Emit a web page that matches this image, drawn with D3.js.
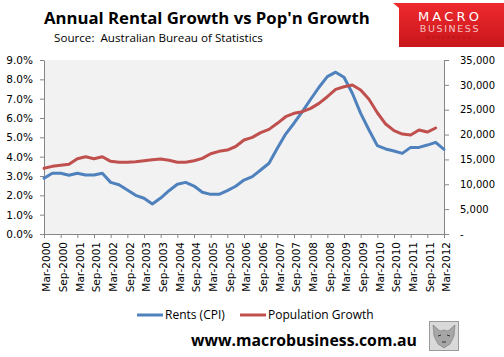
<!DOCTYPE html>
<html><head><meta charset="utf-8">
<script src="https://cdn.jsdelivr.net/npm/d3@7"></script>
<style>html,body{margin:0;padding:0;background:#fff;}svg{display:block;}</style>
</head><body>
<script>
const quarters = ["Mar-2000","Jun-2000","Sep-2000","Dec-2000","Mar-2001","Jun-2001","Sep-2001","Dec-2001",
"Mar-2002","Jun-2002","Sep-2002","Dec-2002","Mar-2003","Jun-2003","Sep-2003","Dec-2003",
"Mar-2004","Jun-2004","Sep-2004","Dec-2004","Mar-2005","Jun-2005","Sep-2005","Dec-2005",
"Mar-2006","Jun-2006","Sep-2006","Dec-2006","Mar-2007","Jun-2007","Sep-2007","Dec-2007",
"Mar-2008","Jun-2008","Sep-2008","Dec-2008","Mar-2009","Jun-2009","Sep-2009","Dec-2009",
"Mar-2010","Jun-2010","Sep-2010","Dec-2010","Mar-2011","Jun-2011","Sep-2011","Dec-2011","Mar-2012"];
const rentsCPI = [2.88,3.14,3.14,3.04,3.14,3.05,3.05,3.14,2.67,2.55,2.28,2.00,1.85,1.55,1.86,2.24,
2.57,2.67,2.48,2.16,2.05,2.05,2.24,2.47,2.79,2.97,3.31,3.66,4.43,5.17,5.73,6.33,
6.97,7.59,8.14,8.37,8.11,7.28,6.24,5.38,4.57,4.40,4.29,4.17,4.48,4.48,4.60,4.74,4.38];
const popGrowth = [13210,13610,13810,14010,15150,15550,15150,15550,14620,14420,14420,14540,14740,14940,15080,14820,
14420,14420,14740,15220,16150,16630,16890,17600,18900,19440,20380,21050,22260,23590,24270,24600,
25270,26280,27610,29090,29620,29960,28960,27090,24390,22120,20780,20110,19910,20910,20510,21320,null];
const leftTicks = [0,1,2,3,4,5,6,7,8,9];
const rightTicks = [0,5000,10000,15000,20000,25000,30000,35000];
const tickLabels = quarters.filter((q,i)=>i%2===0);
const seriesNames = ["Rents (CPI)","Population Growth"];
const titleText = "Annual Rental Growth vs Pop'n Growth";
const sourceText = "Source:  Australian Bureau of Statistics";
const siteText = "www.macrobusiness.com.au";

const W=504,H=357;
const L=44,R=444,T=60,B=234;
const blue="#4f81bd", red="#c0504d", axisCol="#868686";
const font="DejaVu Sans, Verdana, sans-serif";

const svg=d3.select("body").append("svg").attr("width",W).attr("height",H);

const x=d3.scalePoint().domain(quarters).range([L,R]);
const yL=d3.scaleLinear().domain([0,9]).range([B,T]);
const yR=d3.scaleLinear().domain([0,35000]).range([B,T]);

svg.append("rect").attr("x",L).attr("y",T).attr("width",R-L).attr("height",B-T).attr("fill","#f2f2f2");

// left axis
const gL=svg.append("g").attr("transform",`translate(${L},0)`)
  .call(d3.axisLeft(yL).tickValues(leftTicks).tickFormat(d=>d.toFixed(1)+"%").tickSize(4).tickSizeOuter(0).tickPadding(7));
// right axis
const gR=svg.append("g").attr("transform",`translate(${R},0)`)
  .call(d3.axisRight(yR).tickValues(rightTicks).tickFormat(d=>d===0?"-":d3.format(",")(d)).tickSize(5).tickSizeOuter(0).tickPadding(11));
// x axis
const gX=svg.append("g").attr("transform",`translate(0,${B})`)
  .call(d3.axisBottom(x).tickValues(tickLabels).tickSize(4).tickSizeOuter(0));
gX.selectAll(".tick text").attr("text-anchor","end")
  .attr("x",-8).attr("y",0).attr("dy","0.35em").attr("dx",0)
  .attr("transform","translate(2,0) rotate(-90)");

[gL,gR,gX].forEach(g=>{
  g.selectAll("path.domain").attr("stroke",axisCol).attr("stroke-width",1);
  g.selectAll(".tick line").attr("stroke",axisCol);
  g.selectAll("text").attr("font-family",font).attr("font-size",10.5).attr("fill","#000");
});
gR.selectAll("text").attr("font-size",10);

// lines
const lineL=d3.line().x((d,i)=>x(quarters[i])).y(d=>yL(d)).defined(d=>d!=null);
const lineR=d3.line().x((d,i)=>x(quarters[i])).y(d=>yR(d)).defined(d=>d!=null);
svg.append("path").datum(rentsCPI).attr("d",lineL).attr("fill","none").attr("stroke",blue).attr("stroke-width",3).attr("stroke-linejoin","round").attr("stroke-linecap","round");
svg.append("path").datum(popGrowth).attr("d",lineR).attr("fill","none").attr("stroke",red).attr("stroke-width",3).attr("stroke-linejoin","round").attr("stroke-linecap","round");

// title
function fitText(sel,target){const w=sel.node().getComputedTextLength();const fs=parseFloat(sel.attr("font-size"));sel.attr("font-size",fs*target/w);}
const t=svg.append("text").attr("x",44).attr("y",24).attr("font-family","Open Sans, sans-serif").attr("font-weight","bold").attr("font-size",18).attr("fill","#000").text(titleText);
fitText(t,326);
const s=svg.append("text").attr("x",54).attr("y",42).attr("font-family","Open Sans, sans-serif").attr("font-size",12).attr("fill","#000").style("white-space","pre").text(sourceText);
fitText(s,209);

// logo
const defs=svg.append("defs");
const lg=defs.append("linearGradient").attr("id","lg").attr("x1",0).attr("y1",0).attr("x2",0).attr("y2",1);
lg.append("stop").attr("offset","0%").attr("stop-color","#ee2a2e");
lg.append("stop").attr("offset","100%").attr("stop-color","#c8161b");
svg.append("path").attr("d","M393,3 L504,3 L504,47 L399,47 L399,8 Z").attr("fill","url(#lg)");
svg.append("text").attr("x",450).attr("y",21).attr("text-anchor","middle").attr("font-family","DejaVu Sans, sans-serif").attr("font-size",13).attr("letter-spacing",3.2).attr("fill","#fff").text("MACRO");
svg.append("text").attr("x",450).attr("y",32).attr("text-anchor","middle").attr("font-family","DejaVu Sans, sans-serif").attr("font-size",9.5).attr("letter-spacing",1.6).attr("fill","#f6c2c2").text("BUSINESS");
svg.append("text").attr("x",450).attr("y",39).attr("text-anchor","middle").attr("font-family","DejaVu Sans, sans-serif").attr("font-size",4).attr("letter-spacing",2.5).attr("fill","#a81216").text("SUPERBLOG");

// legend
const lgd=svg.append("g");
const legItems=[{name:seriesNames[0],c:blue,x0:137},{name:seriesNames[1],c:red,x0:240}];
legItems.forEach(it=>{
  lgd.append("line").attr("x1",it.x0).attr("x2",it.x0+26).attr("y1",315).attr("y2",315).attr("stroke",it.c).attr("stroke-width",3);
  lgd.append("text").attr("x",it.x0+28).attr("y",315).attr("dy","0.35em").attr("font-family","Open Sans, sans-serif").attr("font-size",12).attr("fill","#000").text(it.name);
});

// footer
const f=svg.append("text").attr("x",191).attr("y",346).attr("font-family","Open Sans, sans-serif").attr("font-weight","bold").attr("font-size",17).attr("fill","#000").text(siteText);
fitText(f,226);

// wolf image placeholder
const wg=svg.append("g");
wg.append("rect").attr("x",429.5).attr("y",321.5).attr("width",29).attr("height",29).attr("fill","#d9d9d9").attr("stroke","#9a9a9a");
wg.append("path").attr("d","M433,325 L440,331 L444,330 L448,331 L455,325 L454,336 L450,344 L444,348 L438,344 L434,336 Z").attr("fill","#a6a6a6").attr("stroke","#777").attr("stroke-width",0.6);
wg.append("path").attr("d","M438,336 L441,335 M447,335 L450,336 M442,342 L446,342").attr("stroke","#333").attr("stroke-width",1);
</script>
</body></html>
